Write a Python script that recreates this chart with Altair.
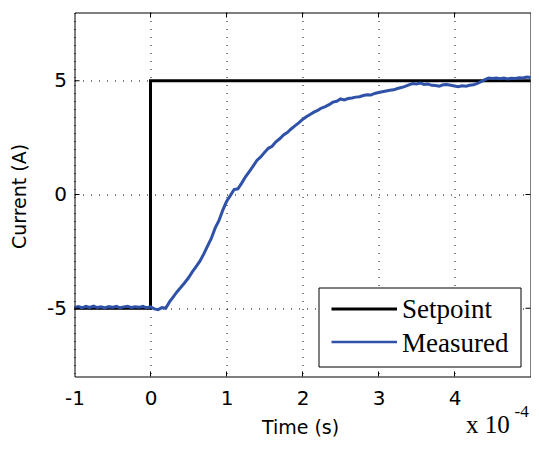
import altair as alt
import pandas as pd

# ---- data (time in units of 1e-4 s) ----
time_e4 = [round(-1 + 0.05 * i, 2) for i in range(121)]
measured = [
    -4.97, -4.93, -4.98, -4.92, -4.96, -4.91, -4.97, -4.94, -4.99, -4.93,
    -4.96, -4.92, -4.98, -4.94, -4.91, -4.97, -4.93, -4.96, -4.92, -4.98,
    -4.94, -5.03, -5.06, -4.97, -5.00,
    -4.72, -4.50, -4.27, -4.08, -3.88, -3.66, -3.40, -3.17, -2.93, -2.62,
    -2.27, -1.93, -1.48, -1.15, -0.70, -0.31, -0.05, 0.22, 0.25, 0.50,
    0.78, 1.01, 1.25, 1.50, 1.65, 1.85, 2.03, 2.12, 2.32, 2.45,
    2.62, 2.72, 2.88, 3.02, 3.15, 3.30, 3.42, 3.52, 3.62, 3.70,
    3.80, 3.86, 3.95, 4.06, 4.10, 4.20, 4.16, 4.22, 4.24, 4.28,
    4.30, 4.35, 4.38, 4.37, 4.44, 4.48, 4.52, 4.55, 4.58, 4.60,
    4.66, 4.70, 4.75, 4.82, 4.88, 4.86, 4.90, 4.84, 4.86, 4.80,
    4.79, 4.76, 4.82, 4.83, 4.80, 4.77, 4.74, 4.78, 4.76, 4.80,
    4.82, 4.88, 4.96, 5.05, 5.12, 5.10, 5.12, 5.09, 5.12, 5.08,
    5.11, 5.10, 5.13, 5.12, 5.16, 5.14,
]
setpoint_t = [-1, 0, 0, 5]
setpoint_v = [-5, -5, 5, 5]
series_names = ["Setpoint", "Measured"]
series_colors = ["#000000", "#2F52A8"]
x_tick_values = [-1, 0, 1, 2, 3, 4]
y_tick_values = [-5, 0, 5]
x_title = "Time (s)"
y_title = "Current (A)"
exponent_base = "x 10"
exponent_power = "-4"

W, H = 456, 364
SANS = "DejaVu Sans"
SERIF = "Liberation Serif"

xscale = alt.Scale(domain=[-1, 5], nice=False, zero=False)
yscale = alt.Scale(domain=[-8, 8], nice=False, zero=False)

xaxis = alt.Axis(
    values=x_tick_values, title=x_title, grid=True, gridDash=[1, 7],
    gridColor="black", gridWidth=1, ticks=False, tickSize=0, domain=False,
    labelFont=SANS, labelFontSize=20, labelColor="black", labelPadding=27.5,
    labelBaseline="alphabetic", labelFlush=False, labelOverlap=False,
    labelExpr="toString(datum.value)",
    titleFont=SANS, titleFontSize=19, titleFontWeight="normal", titleColor="black",
    titleX=225.5, titleY=57, titleBaseline="alphabetic", titleAlign="center",
)
yaxis = alt.Axis(
    values=y_tick_values, title=y_title, grid=True, gridDash=[1, 7],
    gridColor="black", gridWidth=1, ticks=False, tickSize=0, domain=False,
    labelFont=SANS, labelFontSize=20, labelColor="black", labelPadding=8,
    labelBaseline="middle", labelFlush=False, labelOverlap=False,
    labelExpr="toString(datum.value)",
    titleFont=SANS, titleFontSize=19, titleFontWeight="normal", titleColor="black",
    titleX=-55.5, titleY=183.5, titleAngle=270, titleBaseline="middle", titleAlign="center",
)

X = alt.X("t:Q", scale=xscale, axis=xaxis)
Y = alt.Y("v:Q", scale=yscale, axis=yaxis)

sp_df = pd.DataFrame({"t": setpoint_t, "v": setpoint_v, "i": list(range(len(setpoint_t)))})
ms_df = pd.DataFrame({"t": time_e4, "v": measured})

sp = alt.Chart(sp_df).mark_line(color=series_colors[0], strokeWidth=3).encode(
    x=X, y=Y, order="i:Q")
ms = alt.Chart(ms_df).mark_line(color=series_colors[1], strokeWidth=3).encode(x=X, y=Y)

# inward ticks (matlab-style box)
xt_df = pd.DataFrame({"t": x_tick_values[1:]})
yt_df = pd.DataFrame({"v": y_tick_values})
xt_bot = alt.Chart(xt_df).mark_rule(color="black", strokeWidth=1).encode(
    x=X, y=alt.value(H), y2=alt.value(H - 5))
xt_top = alt.Chart(xt_df).mark_rule(color="black", strokeWidth=1).encode(
    x=X, y=alt.value(0), y2=alt.value(5))
yt_left = alt.Chart(yt_df).mark_rule(color="black", strokeWidth=1).encode(
    y=Y, x=alt.value(0), x2=alt.value(5))
yt_right = alt.Chart(yt_df).mark_rule(color="black", strokeWidth=1).encode(
    y=Y, x=alt.value(W), x2=alt.value(W - 5))

# legend
one = pd.DataFrame({"k": [0]})
leg_box = alt.Chart(one).mark_rect(fill="white", stroke="black", strokeWidth=1).encode(
    x=alt.value(244.5), x2=alt.value(446.5), y=alt.value(275.5), y2=alt.value(354.5))
leg_l1 = alt.Chart(one).mark_rule(color=series_colors[0], strokeWidth=3.2).encode(
    x=alt.value(257), x2=alt.value(322.5), y=alt.value(296.5))
leg_l2 = alt.Chart(one).mark_rule(color=series_colors[1], strokeWidth=2.4).encode(
    x=alt.value(257), x2=alt.value(322.5), y=alt.value(329.5))
leg_t1 = alt.Chart(one).mark_text(font=SERIF, fontSize=27, align="left", baseline="alphabetic",
                                  color="black").encode(
    x=alt.value(327.5), y=alt.value(305.5), text=alt.value(series_names[0]))
leg_t2 = alt.Chart(one).mark_text(font=SERIF, fontSize=27, align="left", baseline="alphabetic",
                                  color="black").encode(
    x=alt.value(327.5), y=alt.value(339), text=alt.value(series_names[1]))

# exponent
exp_base = alt.Chart(one).mark_text(font=SERIF, fontSize=25, align="left", baseline="alphabetic",
                                    color="black").encode(
    x=alt.value(391.5), y=alt.value(420.5), text=alt.value(exponent_base))
exp_pow = alt.Chart(one).mark_text(font=SERIF, fontSize=17, align="left", baseline="alphabetic",
                                   color="black").encode(
    x=alt.value(440), y=alt.value(404), text=alt.value(exponent_power))

chart = alt.layer(
    sp, ms, xt_bot, xt_top, yt_left, yt_right,
    leg_box, leg_l1, leg_l2, leg_t1, leg_t2, exp_base, exp_pow,
).properties(
    width=W, height=H,
    padding={"left": 66.5, "top": 4.5, "right": 0.5, "bottom": 63.5},
    autosize=alt.AutoSizeParams(type="none"),
    background="white",
).configure_view(stroke="black", strokeWidth=1)

chart.save("out.html", embed_options={"renderer": "svg", "actions": False})
